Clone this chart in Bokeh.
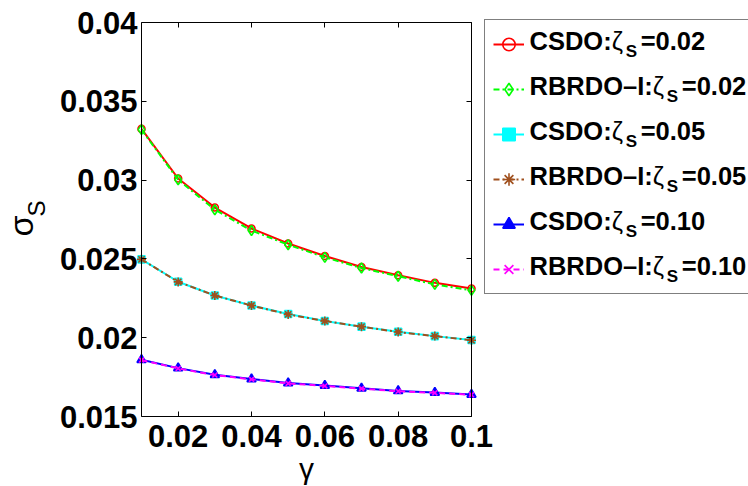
import math
from bokeh.plotting import figure
from bokeh.models import Legend, LegendItem, Label, LinearAxis, FixedTicker, Range1d
from bokeh.embed import file_html
from bokeh.resources import INLINE

# ---------------- data ----------------
gamma = [0.01, 0.02, 0.03, 0.04, 0.05, 0.06, 0.07, 0.08, 0.09, 0.10]
csdo_002 = [0.03325, 0.03010, 0.02826, 0.02693, 0.02598, 0.02518, 0.02449, 0.02396, 0.02348, 0.02312]
rbrdo_002 = [0.03320, 0.03002, 0.02812, 0.02680, 0.02590, 0.02510, 0.02442, 0.02390, 0.02338, 0.02300]
csdo_005 = [0.02497, 0.02355, 0.02268, 0.02204, 0.02150, 0.02106, 0.02070, 0.02038, 0.02010, 0.01985]
rbrdo_005 = [0.02497, 0.02354, 0.02268, 0.02204, 0.02148, 0.02106, 0.02070, 0.02036, 0.02010, 0.01984]
csdo_010 = [0.01860, 0.01807, 0.01765, 0.01738, 0.01712, 0.01696, 0.01679, 0.01662, 0.01652, 0.01639]
rbrdo_010 = [0.01858, 0.01805, 0.01763, 0.01736, 0.01710, 0.01694, 0.01677, 0.01660, 0.01650, 0.01638]

x_ticks = [0.02, 0.04, 0.06, 0.08, 0.1]
x_tick_labels = ["0.02", "0.04", "0.06", "0.08", "0.1"]
y_ticks = [0.015, 0.02, 0.025, 0.03, 0.035, 0.04]
y_tick_labels = ["0.015", "0.02", "0.025", "0.03", "0.035", "0.04"]

series_methods = ["CSDO", "RBRDO\u2013I", "CSDO", "RBRDO\u2013I", "CSDO", "RBRDO\u2013I"]
series_zeta = ["0.02", "0.02", "0.05", "0.05", "0.10", "0.10"]
series_values = [csdo_002, rbrdo_002, csdo_005, rbrdo_005, csdo_010, rbrdo_010]

# ---------------- styles ----------------
colors = ["#ff0000", "#00ff00", "#00ffff", "#a0501e", "#0000ff", "#ff00ff"]
dashes = ["solid", "6 3 2 3", "solid", "6 3 2 3", "solid", "6 4"]
markers = ["circle", "diamond", "square", "asterisk", "triangle", "x"]
msizes = [7, 10, 7, 9, 9, 7]
mfill = [None, None, "#00ffff", None, "#0000ff", None]

W, H = 748, 486
# pixel box of the axes area inside the canvas
BL, BR, BT, BB = 141, 471, 22, 416
X0, X1, Y0, Y1 = 0.01, 0.1, 0.015, 0.04
FONT = "Liberation Sans"
MID = 0.3465  # distance baseline -> middle of the font box, in em

# the frame covers the whole canvas; the visible axes are drawn at fixed locations
kx = (X1 - X0) / (BR - BL)
ky = (Y1 - Y0) / (BB - BT)
xr = Range1d(X0 - BL * kx, X1 + (W - BR) * kx)
yr = Range1d(Y0 - (H - BB) * ky, Y1 + BT * ky)

p = figure(width=W, height=H, x_range=xr, y_range=yr,
           x_axis_type=None, y_axis_type=None,
           output_backend="svg", toolbar_location=None,
           min_border_left=0, min_border_right=0, min_border_top=0, min_border_bottom=0)
p.grid.visible = False
p.outline_line_color = None
p.background_fill_color = "white"
p.border_fill_color = "white"


def make_axis(ticks, labels, loc, bounds, show_labels, standoff):
    ax = LinearAxis(ticker=FixedTicker(ticks=ticks), fixed_location=loc, bounds=bounds,
                    major_tick_in=5, major_tick_out=0, minor_tick_line_color=None,
                    axis_line_color="black", axis_line_width=1,
                    major_tick_line_color="black",
                    major_label_standoff=standoff,
                    major_label_text_font=FONT, major_label_text_font_style="bold",
                    major_label_text_font_size="31px",
                    major_label_text_color="black")
    if show_labels:
        ax.major_label_overrides = {t: l for t, l in zip(ticks, labels)}
    else:
        ax.major_label_overrides = {t: "" for t in ticks}
    return ax


p.add_layout(make_axis(x_ticks, x_tick_labels, Y0, (X0, X1), True, 8), "below")
p.add_layout(make_axis(y_ticks, y_tick_labels, X0, (Y0, Y1), True, 4), "left")
p.add_layout(make_axis(x_ticks, x_tick_labels, Y1, (X0, X1), False, 0), "above")
p.add_layout(make_axis(y_ticks, y_tick_labels, X1, (Y0, Y1), False, 0), "right")

items = []
for i, vals in enumerate(series_values):
    lr = p.line(gamma, vals, line_color=colors[i], line_width=2, line_dash=dashes[i])
    sr = p.scatter(gamma, vals, marker=markers[i], size=msizes[i], line_color=colors[i],
                   line_width=1.6, fill_color=mfill[i])
    items.append(LegendItem(label=" ", renderers=[lr, sr]))

# legend box (glyph samples)
pad, gh, sp = 8, 32, 13
leg_h = 2 * pad + 6 * gh + 5 * sp
leg_left, leg_top = 484, 21
legend = Legend(items=items, location=(leg_left, H - (leg_top + leg_h)),
                padding=pad, spacing=sp, glyph_width=31, glyph_height=gh, label_height=gh,
                label_width=211, label_standoff=5, label_text_font_size="8px",
                border_line_color="black", border_line_width=1,
                background_fill_color="white", background_fill_alpha=0.0, margin=0)
p.add_layout(legend)


def add_text(px, py, txt, size, style="normal", align="left", angle=0.0):
    # (px, py): start of the text's baseline, in canvas pixels from the top-left corner
    off = MID * size
    if angle:
        ax_, ay_ = px - off, py
    else:
        ax_, ay_ = px, py - off
    p.add_layout(Label(x=ax_, y=H - ay_, x_units="screen", y_units="screen", text=txt,
                       text_font=FONT, text_font_style=style, text_font_size=f"{size}px",
                       text_align=align, text_baseline="middle", angle=angle,
                       text_color="black"))


# legend texts (with subscript S)
bold_w = {"C": 722, "S": 667, "D": 722, "O": 778, ":": 333, "R": 722, "B": 722,
          "\u2013": 556, "I": 278}
fs = 25.5
for i in range(6):
    base = leg_top + pad + gh / 2 + i * (gh + sp) + 4
    prefix = series_methods[i] + ":"
    x0 = 529
    zx = x0 + sum(bold_w[c] for c in prefix) / 1000 * fs
    add_text(x0, base, prefix, fs, "bold")
    add_text(zx, base, "\u03b6", fs)
    add_text(zx + 14, base + 8, "S", 17, "bold")
    add_text(zx + 29, base, "=" + series_zeta[i], fs, "bold")

# axis labels
add_text(32, 236, "\u03c3", 34, angle=math.pi / 2)
add_text(44, 216, "S", 24, angle=math.pi / 2)
add_text(306, 478, "\u03b3", 30, align="center")

open("out.html", "w").write(file_html(p, INLINE))
